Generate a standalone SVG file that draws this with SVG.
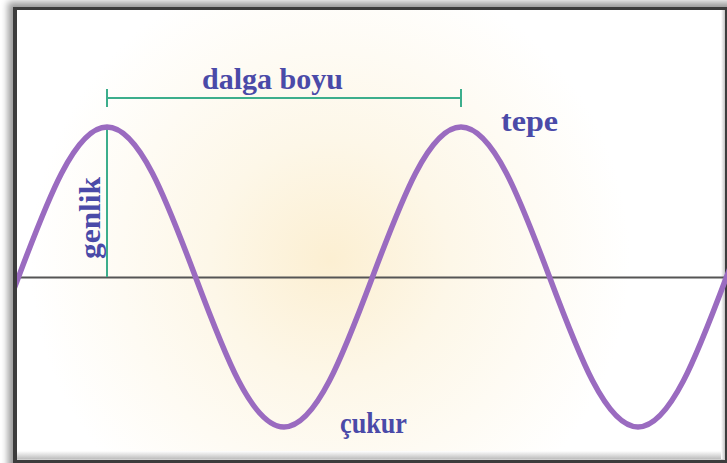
<svg xmlns="http://www.w3.org/2000/svg" width="727" height="463" viewBox="0 0 727 463">
<style>
.lbl{font-family:"Liberation Serif","Times New Roman",serif;font-weight:bold;font-size:30px;fill:#4a4aa8}
.meas{stroke:#3cae8c;stroke-width:2;fill:none}
.wave{stroke:#9a6bc0;stroke-width:5.5;fill:none;stroke-linecap:round}
.axis{stroke:#555;stroke-width:2}
</style>
<defs>
<radialGradient id="glow" cx="330" cy="260" r="300" gradientUnits="userSpaceOnUse">
<stop offset="0" stop-color="#fcefd2"/>
<stop offset="0.4" stop-color="#fdf7e8"/>
<stop offset="1" stop-color="#ffffff"/>
</radialGradient>
<linearGradient id="bevB" x1="0" y1="0" x2="0" y2="1">
<stop offset="0" stop-color="#ffffff"/>
<stop offset="1" stop-color="#bdbdbd"/>
</linearGradient>
<linearGradient id="bevR" x1="0" y1="0" x2="1" y2="0">
<stop offset="0" stop-color="#ffffff"/>
<stop offset="1" stop-color="#c4c4c4"/>
</linearGradient>
<filter id="sh" x="-5%" y="-5%" width="110%" height="110%">
<feGaussianBlur stdDeviation="3.5"/>
</filter>
<clipPath id="clip"><rect x="17" y="10" width="710" height="449"/></clipPath>
</defs>
<g id="frame">
<rect width="727" height="463" fill="#ffffff"/>
<rect x="8" y="2" width="730" height="470" fill="#000" opacity="0.4" filter="url(#sh)"/>
<rect x="13" y="7" width="714" height="456" fill="#3c3c3c"/>
<rect x="17" y="10" width="708" height="450" fill="#d0d0d0"/>
<rect x="17" y="10" width="705" height="449" fill="url(#glow)"/>
<rect x="17" y="451" width="708" height="8" fill="url(#bevB)"/>
<rect x="721" y="10" width="4" height="449" fill="url(#bevR)"/>
</g>
<g id="axis">
<line class="axis" x1="17" y1="277.5" x2="724" y2="277.5"/>
</g>
<g id="connectors">
<line class="meas" x1="107" y1="98" x2="461" y2="98"/>
<line class="meas" x1="107" y1="89" x2="107" y2="107"/>
<line class="meas" x1="461" y1="89" x2="461" y2="107"/>
<line class="meas" x1="107" y1="127" x2="107" y2="277"/>
</g>
<g id="wave" clip-path="url(#clip)">
<path class="wave" d="M-70,427 C-37.97,427 -10.36,353.84 18.5,277 S74.97,127 107,127 S166.64,200.16 195.5,277 S251.97,427 284,427 S343.64,353.84 372.5,277 S428.97,127 461,127 S520.64,200.16 549.5,277 S605.97,427 638,427 S697.64,353.84 726.5,277 S782.97,127 815,127"/>
</g>
<g id="label-dalga-boyu">
<text class="lbl" x="202" y="89" textLength="141" lengthAdjust="spacingAndGlyphs">dalga boyu</text>
</g>
<g id="label-tepe">
<text class="lbl" x="501" y="131" textLength="57" lengthAdjust="spacingAndGlyphs">tepe</text>
</g>
<g id="label-cukur">
<text class="lbl" x="340" y="433" textLength="67" lengthAdjust="spacingAndGlyphs">çukur</text>
</g>
<g id="label-genlik">
<text class="lbl" transform="translate(100,259) rotate(-90)" x="0" y="0" textLength="82" lengthAdjust="spacingAndGlyphs">genlik</text>
</g>
</svg>
